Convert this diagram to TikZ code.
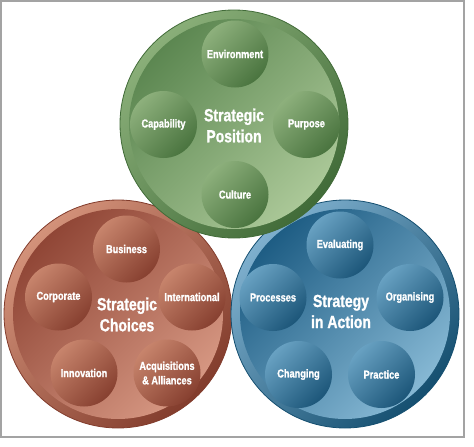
\documentclass[tikz,border=0pt]{standalone}
\usepackage{fontspec}
\newfontfamily\cond[FakeStretch=0.8, FakeBold=1.2]{Liberation Sans Bold}
\definecolor{gRingL}{HTML}{8AAF79}
\definecolor{gRingD}{HTML}{416B38}
\definecolor{gDiskD}{HTML}{5C8751}
\definecolor{gDiskL}{HTML}{ABC898}
\definecolor{gBallL}{HTML}{8DB07C}
\definecolor{gBallD}{HTML}{4A743F}
\definecolor{rRingL}{HTML}{D3927A}
\definecolor{rRingD}{HTML}{823C2C}
\definecolor{rDiskD}{HTML}{904636}
\definecolor{rDiskL}{HTML}{D69782}
\definecolor{rBallL}{HTML}{C7846C}
\definecolor{rBallD}{HTML}{874030}
\definecolor{bRingL}{HTML}{7FB0CE}
\definecolor{bRingD}{HTML}{154F70}
\definecolor{bDiskD}{HTML}{1E5D84}
\definecolor{bDiskL}{HTML}{86B8D4}
\definecolor{bBallL}{HTML}{68A1C2}
\definecolor{bBallD}{HTML}{1C5679}
\definecolor{frameGray}{HTML}{A3A3A3}
\tikzset{
  bigring/.style={circle, inner sep=0pt, minimum size=228pt, line width=0.8pt},
  bigdisk/.style={circle, inner sep=0pt, minimum size=210pt},
  ball/.style={circle, inner sep=0pt, minimum size=67pt, text=white, align=center,
    font=\cond\fontsize{11.5}{14.5}\selectfont},
  title/.style={text=white, align=center, inner sep=0pt,
    font=\cond\fontsize{17.5}{21}\selectfont},
  shadeit/.style 2 args={top color=#1, bottom color=#2, shading angle=45},
}
\begin{document}
\begin{tikzpicture}[x=1pt,y=-1pt]
\useasboundingbox (0,0) rectangle (474,447);
\draw[frameGray, line width=1.6pt] (1,1) rectangle (464,437);

% Red: Strategic Choices
\node[bigring, draw=rRingD, shadeit={rRingL}{rRingD}] (rO) at (118,314) {};
\node[bigdisk, shadeit={rDiskD}{rDiskL}] (rI) at (118,314) {};
\node[ball, shadeit={rBallL}{rBallD}] (rBus) at (126.5,249) {Business};
\node[ball, shadeit={rBallL}{rBallD}] (rCor) at (58.5,297) {Corporate};
\node[ball, shadeit={rBallL}{rBallD}] (rInt) at (192,297) {International};
\node[ball, shadeit={rBallL}{rBallD}] (rInn) at (84,373) {Innovation};
\node[ball, shadeit={rBallL}{rBallD}] (rAcq) at (167,373) {Acquisitions\\\& Alliances};
\node[title] (rT) at (127,314.5) {Strategic\\Choices};

% Blue: Strategy in Action
\node[bigring, draw=bRingD, shadeit={bRingL}{bRingD}] (bO) at (345,314) {};
\node[bigdisk, shadeit={bDiskD}{bDiskL}] (bI) at (345,314) {};
\node[ball, shadeit={bBallL}{bBallD}] (bEva) at (340,245) {Evaluating};
\node[ball, shadeit={bBallL}{bBallD}] (bPro) at (273,297.5) {Processes};
\node[ball, shadeit={bBallL}{bBallD}] (bOrg) at (410,297.5) {Organising};
\node[ball, shadeit={bBallL}{bBallD}] (bCha) at (298.5,374.5) {Changing};
\node[ball, shadeit={bBallL}{bBallD}] (bPra) at (381.5,374.5) {Practice};
\node[title] (bT) at (341,311.5) {Strategy\\in Action};

% Green: Strategic Position
\node[bigring, draw=gRingD, shadeit={gRingL}{gRingD}] (gO) at (234,124) {};
\node[bigdisk, shadeit={gDiskD}{gDiskL}] (gI) at (234,124) {};
\node[ball, shadeit={gBallL}{gBallD}] (gEnv) at (235,54) {Environment};
\node[ball, shadeit={gBallL}{gBallD}] (gCap) at (163.5,124.5) {Capability};
\node[ball, shadeit={gBallL}{gBallD}] (gPur) at (306.5,124.5) {Purpose};
\node[ball, shadeit={gBallL}{gBallD}] (gCul) at (235,194.5) {Culture};
\node[title] (gT) at (234,125.5) {Strategic\\Position};
\end{tikzpicture}
\end{document}
